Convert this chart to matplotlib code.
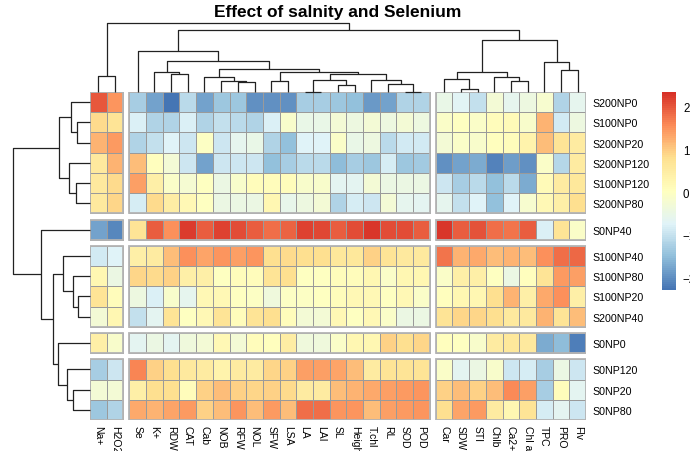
import matplotlib
matplotlib.use("Agg")
import matplotlib.pyplot as plt
import numpy as np
from matplotlib.colors import LinearSegmentedColormap, Normalize
from matplotlib.cm import ScalarMappable
from matplotlib.patches import Rectangle

plt.rcParams['font.family'] = ['Liberation Sans', 'DejaVu Sans']

# traits (columns) and treatments (rows), in clustered order
columns = ['Na+', 'H2O2', 'Se', 'K+', 'RDW', 'CAT', 'Cab', 'NOB', 'RFW', 'NOL',
           'SFW', 'LSA', 'LA', 'LAI', 'SL', 'Height', 'T.chl', 'RL', 'SOD', 'POD',
           'Car', 'SDW', 'STI', 'Chlb', 'Ca2+', 'Chl a', 'TPC', 'PRO', 'Flv']
rows = ['S200NP0', 'S100NP0', 'S200NP20', 'S200NP120', 'S100NP120', 'S200NP80',
        'S0NP40', 'S100NP40', 'S100NP80', 'S100NP20', 'S200NP40', 'S0NP0',
        'S0NP120', 'S0NP20', 'S0NP80']

# scaled values per treatment
s200np0 = [2.0, 1.5, -1.3, -1.8, -2.3, -1.1, -1.8, -1.4, -1.4, -2.0, -2.0, -2.0, -1.3, -1.3, -1.4,
           -1.5, -1.9, -1.8, -1.2, -1.2, -0.5, -0.7, -1.0, -0.3, -0.6, -0.4, -0.2, -1.2, -0.6]
s100np0 = [0.85, 0.7, -0.8, -1.2, -1.2, -0.8, -1.2, -1.0, -1.1, -1.2, -0.8, -0.15, -0.5, -0.5, -0.3,
           -0.4, -0.3, -0.4, -0.3, -0.4, -0.1, 0.0, -0.1, 0.1, 0.15, -0.15, 1.2, -0.9, -0.4]
s200np20 = [1.2, 1.45, -1.2, -1.0, -0.75, -0.95, -0.05, -0.95, -0.6, -0.5, -1.2, -1.5, -0.75, -0.75, -0.1,
            -0.5, -0.4, -1.1, -0.9, -0.9, -0.3, -0.1, -0.15, 0.05, 0.1, 0.35, 1.1, 0.7, 0.5]
s200np120 = [0.55, 1.2, 1.1, 0.05, -0.3, -0.95, -1.8, -0.95, -0.95, -0.95, -1.5, -1.3, -1.1, -1.1, -1.55,
             -1.3, -1.4, -0.85, -1.4, -1.35, -2.0, -1.8, -1.7, -2.15, -1.85, -2.0, -0.1, -1.15, 0.5]
s100np120 = [0.55, 0.85, 1.4, 0.4, -0.1, -0.25, 0.0, -0.45, -0.15, 0.1, 0.1, 0.1, -0.15, -0.15, -0.65,
             -0.65, -0.3, -0.45, -0.45, -0.45, -0.95, -1.3, -1.1, -1.5, -1.1, -1.7, 0.15, 0.5, 0.6]
s200np80 = [0.55, 0.9, -0.85, 0.85, 0.45, 0.2, 0.0, -0.45, -0.45, -0.45, 0.25, -0.55, -0.4, -0.3, -1.2,
            -0.85, -0.95, -0.3, -0.6, -0.65, -0.6, -1.0, -0.75, -1.5, -0.75, -0.2, 0.2, 0.4, 0.8]
s0np40 = [-1.8, -2.1, 0.7, 1.95, 1.55, 2.25, 1.95, 2.2, 2.1, 1.95, 1.8, 1.9, 2.2, 2.15, 1.95,
          2.1, 2.3, 2.1, 2.1, 1.95, 2.3, 1.95, 2.05, 1.8, 1.75, 1.95, -0.8, 0.7, -0.1]
s100np40 = [-0.9, -0.75, 0.4, 0.5, 1.1, 1.55, 1.35, 1.5, 1.4, 1.5, 0.8, 0.85, 0.8, 0.8, 0.6,
            0.6, 0.95, 0.7, 0.55, 0.55, 1.75, 1.2, 1.3, 1.1, 1.2, 1.1, 1.55, 1.8, 1.85]
s100np80 = [0.25, -0.45, 0.9, 0.85, 0.95, 0.4, 0.4, 0.0, 0.1, 0.1, 0.7, 0.8, 0.0, 0.0, 0.1,
            0.1, 0.25, -0.1, 0.25, 0.25, -0.1, 0.4, 0.4, 0.0, -0.45, 0.05, 0.7, 1.45, 1.4]
s100np20 = [0.7, 0.1, -0.4, -0.8, -0.15, -0.6, 0.2, 0.2, 0.0, -0.05, -0.35, -0.05, -0.05, 0.0, 0.1,
            0.2, 0.2, 0.0, 0.2, -0.1, 0.05, 0.25, 0.25, 0.8, 1.2, 0.4, 1.3, 1.55, 0.4]
s200np40 = [-0.3, 0.25, -1.0, -0.65, 0.7, 0.0, 0.2, 0.7, 0.1, 0.7, 0.8, 0.1, -0.3, -0.3, 0.2,
            0.0, 0.2, -0.1, -0.45, -0.45, 0.7, 0.9, 0.9, 0.8, 0.55, 0.55, 1.2, 0.7, 1.1]
s0np0 = [0.4, -0.15, -0.65, -0.45, -0.65, -0.35, -0.3, 0.2, -0.3, 0.1, 0.05, 0.45, -0.35, -0.35, -0.1,
         0.25, 0.25, 0.95, 0.8, 0.9, 0.05, 0.0, -0.15, 0.5, 0.6, 0.55, -1.7, -1.55, -2.2]
s0np120 = [-1.3, -0.95, 1.65, 0.95, 0.8, 0.55, 0.5, 0.35, 0.5, 0.5, 0.9, 0.95, 1.4, 1.4, 1.35,
           1.1, 0.5, 0.7, 0.7, 0.7, -0.1, -0.65, -0.45, -0.15, -0.95, -0.85, -1.3, -0.45, -0.95]
s0np20 = [-0.3, -0.3, 0.4, 0.8, 0.8, 0.1, 0.95, 1.1, 0.95, 0.9, 0.95, 0.85, 0.5, 0.5, 1.1,
          1.2, 1.3, 1.4, 1.45, 1.5, 0.95, 1.1, 0.95, 1.1, 1.6, 1.4, -1.3, 0.1, -0.65]
s0np80 = [-1.4, -1.2, 1.3, 1.2, 1.35, 1.45, 0.95, 1.1, 1.5, 1.1, 1.45, 1.1, 1.8, 1.8, 1.5,
          1.5, 1.1, 1.4, 1.45, 1.5, 0.8, 1.35, 1.45, 0.5, 0.25, 0.7, -0.85, -0.65, -0.95]

values = np.array([s200np0, s100np0, s200np20, s200np120, s100np120, s200np80, s0np40,
                   s100np40, s100np80, s100np20, s200np40, s0np0, s0np120, s0np20, s0np80])

# cluster cuts
col_gaps = [2, 20]
row_gaps = [6, 7, 11, 12]

# linkage: (left, right, height); ints refer to earlier merges
col_merges = [('LA', 'LAI', 0.5), ('SOD', 'POD', 0.5), ('SL', 'Height', 6.7), ('RL', 1, 7.7),
              ('SDW', 'STI', 3.3), ('RFW', 'NOL', 9.7), ('NOB', 5, 10.7), ('SFW', 'LSA', 10.7),
              (0, 2, 11.7), ('T.chl', 3, 11.7), ('Ca2+', 'Chl a', 10.7), ('Car', 4, 12.7),
              ('Cab', 6, 15.0), ('Na+', 'H2O2', 15.7), ('Chlb', 10, 15.0), ('RDW', 'CAT', 17.7),
              (8, 9, 17.7), ('K+', 15, 20.0), (7, 16, 20.0), (11, 14, 20.0), ('PRO', 'Flv', 21.7),
              (12, 18, 22.7), ('TPC', 20, 30.0), (17, 21, 30.7), ('Se', 23, 40.7), (19, 22, 51.7),
              (24, 25, 61.7), (13, 26, 69.0)]
row_merges = [('S100NP0', 'S200NP20', 12.7), ('S200NP0', 0, 19.3), ('S100NP120', 'S200NP80', 14.0),
              ('S200NP120', 2, 20.7), (1, 3, 30.7), ('S100NP20', 'S200NP40', 12.0),
              ('S100NP80', 5, 17.3), ('S100NP40', 6, 26.7), ('S0NP20', 'S0NP80', 17.3),
              ('S0NP120', 8, 22.7), ('S0NP0', 9, 31.7), (7, 10, 37.3), ('S0NP40', 11, 49.3),
              (4, 12, 76.7)]

palette = ['#4575B4', '#91BFDB', '#E0F3F8', '#FFFFBF', '#FEE090', '#FC8D59', '#D73027']
cmap = LinearSegmentedColormap.from_list('rdylbu_r', palette, N=100)
norm = Normalize(-2.3, 2.35)

W, H = 690, 452
fig = plt.figure(figsize=(W / 100, H / 100), dpi=100)


def box(l, t, r, b):
    return fig.add_axes([l / W, 1 - b / H, (r - l) / W, (b - t) / H])


def starts(n, gaps, g):
    return np.array([i + g * sum(i >= k for k in gaps) for i in range(n)])


def tree_segments(merges, pos):
    node_pos = dict(pos)
    node_h = {k: 0.0 for k in pos}
    segs = []
    for i, (a, b, h) in enumerate(merges):
        pa, pb = node_pos[a], node_pos[b]
        segs.append(([pa, pa, pb, pb], [node_h[a], h, h, node_h[b]]))
        node_pos[i] = (pa + pb) / 2
        node_h[i] = h
    return segs


gc, gr = 0.36, 0.30
xs = starts(len(columns), col_gaps, gc)
ys = starts(len(rows), row_gaps, gr)

# heatmap blocks
ax = box(90, 93, 586, 421)
cb = [0] + col_gaps + [len(columns)]
rb = [0] + row_gaps + [len(rows)]
for r0, r1 in zip(rb[:-1], rb[1:]):
    for c0, c1 in zip(cb[:-1], cb[1:]):
        X = xs[c0] + np.arange(c1 - c0 + 1)
        Y = ys[r0] + np.arange(r1 - r0 + 1)
        ax.pcolormesh(X, Y, values[r0:r1, c0:c1], cmap=cmap, norm=norm,
                      edgecolors='#9A9A9A', linewidth=0.7)
        ax.add_patch(Rectangle((X[0], Y[0]), X[-1] - X[0], Y[-1] - Y[0], fill=False,
                               edgecolor='#B4B4B4', linewidth=1.3))
ax.set_xlim(0, xs[-1] + 1)
ax.set_ylim(ys[-1] + 1, 0)
for s in ax.spines.values():
    s.set_visible(False)
ax.set_xticks(xs + 0.5)
ax.set_xticklabels(columns, rotation=270, ha='center', va='top', fontsize=7.5)
ax.set_yticks(ys + 0.5)
ax.set_yticklabels(rows, fontsize=7.7)
ax.yaxis.tick_right()
ax.tick_params(axis='y', length=0, pad=4.5)
ax.tick_params(axis='x', length=0, pad=3.5)

# column dendrogram
axt = box(90, 24, 586, 93)
for x, y in tree_segments(col_merges, dict(zip(columns, xs + 0.5))):
    axt.plot(x, y, color='#222222', lw=0.9, clip_on=False, solid_capstyle='butt')
axt.set_xlim(0, xs[-1] + 1)
axt.set_ylim(0, 69)
axt.axis('off')

# row dendrogram
axl = box(13.3, 93, 90, 421)
for y, x in tree_segments(row_merges, dict(zip(rows, ys + 0.5))):
    axl.plot(x, y, color='#222222', lw=0.9, clip_on=False, solid_capstyle='butt')
axl.set_ylim(ys[-1] + 1, 0)
axl.set_xlim(76.7, 0)
axl.axis('off')

# legend bar
cax = box(662, 93, 676, 291)
cbar = fig.colorbar(ScalarMappable(norm=norm, cmap=cmap), cax=cax, ticks=[-2, -1, 0, 1, 2])
cbar.outline.set_visible(False)
cax.tick_params(length=0, pad=5, labelsize=8.3)

fig.text(337.5 / W, 1 - 12 / H, 'Effect of salnity and Selenium', ha='center', va='center',
         fontsize=12.5, fontweight='bold')

fig.savefig('out.png', dpi=100)
